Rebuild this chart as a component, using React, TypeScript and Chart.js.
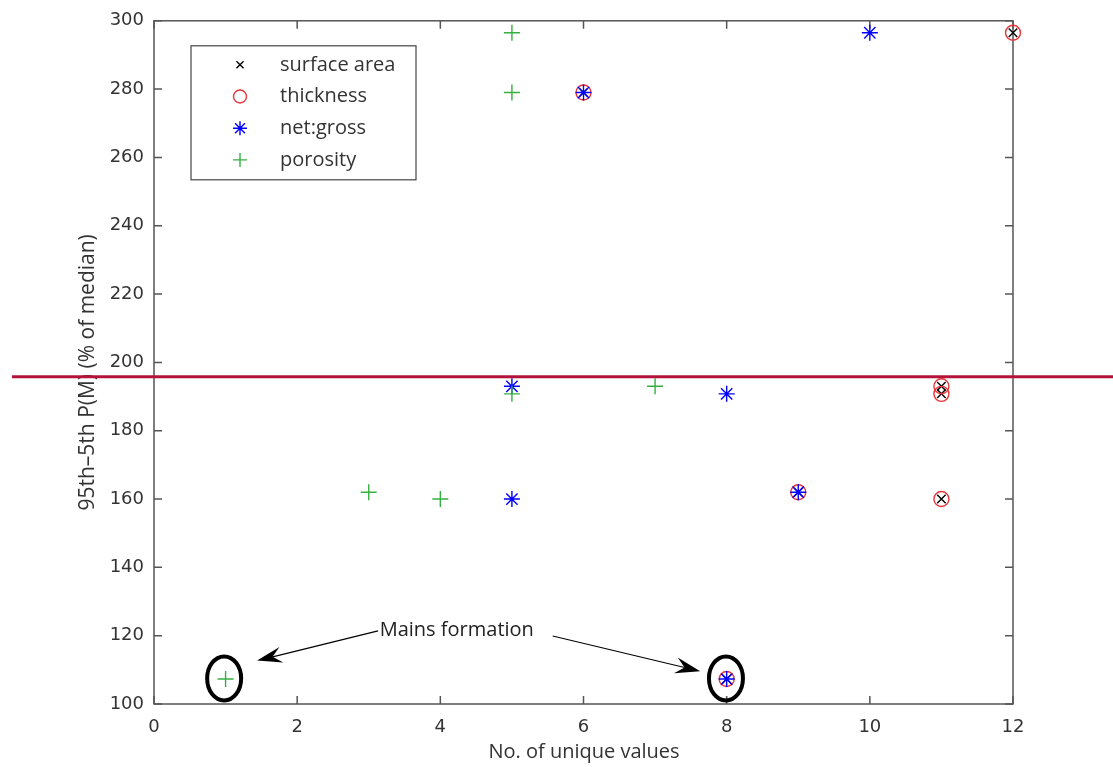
import React, { useEffect, useRef } from "react";
import { Chart, registerables } from "chart.js";

Chart.register(...registerables);

// ---- data ----
const seriesLabels = ["surface area", "thickness", "net:gross", "porosity"];
const surfaceAreaX = [6, 8, 9, 11, 11, 11, 12];
const surfaceAreaY = [279, 107.3, 162, 193, 190.8, 160, 296.5];
const thicknessX = [6, 8, 9, 11, 11, 11, 12];
const thicknessY = [279, 107.3, 162, 193, 190.8, 160, 296.5];
const netGrossX = [5, 5, 6, 8, 8, 9, 10];
const netGrossY = [193, 160, 279, 190.8, 107.3, 162, 296.5];
const porosityX = [1, 3, 4, 5, 5, 5, 7];
const porosityY = [107.3, 162, 160, 296.5, 279, 190.8, 193];

const xTicks = [0, 2, 4, 6, 8, 10, 12];
const yTicks = [100, 120, 140, 160, 180, 200, 220, 240, 260, 280, 300];

const xTitle = "No. of unique values";
const yTitle = "95th\u20135th P(M) (% of median)";

// annotation (data coordinates)
const annotationText = "Mains formation";
const annotationTextPos = [4.23, 121.6];
const ellipseCenters = [[0.98, 107.5], [7.99, 107.5]];
const arrowStarts = [[3.13, 121.4], [5.57, 119.9]];
const arrowTips = [[1.44, 112.7], [7.63, 109.6]];
const guideLineValue = 195.8;

const COLORS = ["#000000", "#e8353a", "#0000ff", "#35b040"];
const STYLES = ["crossRot", "circle", "star", "cross"];
const RADII = [6, 7.5, 8, 8];

const toPts = (xs: number[], ys: number[]) => xs.map((x, i) => ({ x, y: ys[i] }));

const TEXT_FONT = "'Open Sans', 'Noto Sans', sans-serif";

function drawMarker(ctx: CanvasRenderingContext2D, style: string, cx: number, cy: number, r: number, color: string) {
  ctx.save();
  ctx.strokeStyle = color;
  ctx.lineWidth = 1.4;
  ctx.beginPath();
  if (style === "circle") {
    ctx.arc(cx, cy, r, 0, Math.PI * 2);
  } else {
    const lines: number[] = [];
    if (style === "cross" || style === "star") lines.push(0, Math.PI / 2);
    if (style === "crossRot" || style === "star") lines.push(Math.PI / 4, (3 * Math.PI) / 4);
    for (const a of lines) {
      ctx.moveTo(cx - r * Math.cos(a), cy - r * Math.sin(a));
      ctx.lineTo(cx + r * Math.cos(a), cy + r * Math.sin(a));
    }
  }
  ctx.stroke();
  ctx.restore();
}

const framePlugin = {
  id: "frame",
  beforeDatasetsDraw(chart: any) {
    const { ctx, chartArea: ca, scales } = chart;
    const x = scales.x, y = scales.y;
    ctx.save();
    ctx.strokeStyle = "#555555";
    ctx.lineWidth = 1.5;
    ctx.strokeRect(ca.left, ca.top, ca.right - ca.left, ca.bottom - ca.top);
    const tl = 8;
    ctx.beginPath();
    for (const v of xTicks) {
      const px = x.getPixelForValue(v);
      ctx.moveTo(px, ca.bottom); ctx.lineTo(px, ca.bottom - tl);
      ctx.moveTo(px, ca.top); ctx.lineTo(px, ca.top + tl);
    }
    for (const v of yTicks) {
      const py = y.getPixelForValue(v);
      ctx.moveTo(ca.left, py); ctx.lineTo(ca.left + tl, py);
      ctx.moveTo(ca.right, py); ctx.lineTo(ca.right - tl, py);
    }
    ctx.stroke();
    // axis titles
    ctx.fillStyle = "#333333";
    ctx.textAlign = "center";
    ctx.textBaseline = "middle";
    ctx.font = `20px ${TEXT_FONT}`;
    ctx.fillText(xTitle, (ca.left + ca.right) / 2 + 0.5, ca.bottom + 48);
    ctx.save();
    ctx.translate(ca.left - 66, (ca.top + ca.bottom) / 2 + 10);
    ctx.rotate(-Math.PI / 2);
    ctx.font = `21px ${TEXT_FONT}`;
    ctx.fillText(yTitle, 0, 0);
    ctx.restore();
    ctx.restore();
  },
  afterDraw(chart: any) {
    const { ctx, chartArea: ca, scales } = chart;
    const x = scales.x, y = scales.y;
    ctx.save();
    // legend
    const lx = ca.left + 37, ly = ca.top + 25, lw = 225, lh = 134;
    ctx.fillStyle = "#ffffff";
    ctx.fillRect(lx, ly, lw, lh);
    ctx.strokeStyle = "#444444";
    ctx.lineWidth = 1.2;
    ctx.strokeRect(lx, ly, lw, lh);
    ctx.font = `20px ${TEXT_FONT}`;
    ctx.textAlign = "left";
    ctx.textBaseline = "middle";
    seriesLabels.forEach((label, i) => {
      const ry = ly + 19 + i * 31.7;
      drawMarker(ctx, STYLES[i], lx + 49, ry, RADII[i] - 1, COLORS[i]);
      ctx.fillStyle = "#333333";
      ctx.fillText(label, lx + 89, ry);
    });

    // annotation ellipses
    ctx.strokeStyle = "#000000";
    ctx.lineWidth = 4;
    for (const [ex, ey] of ellipseCenters) {
      ctx.beginPath();
      ctx.ellipse(x.getPixelForValue(ex), y.getPixelForValue(ey), 17, 22, 0, 0, Math.PI * 2);
      ctx.stroke();
    }
    // arrows
    ctx.lineWidth = 1.2;
    ctx.fillStyle = "#000000";
    arrowStarts.forEach((s, i) => {
      const sx = x.getPixelForValue(s[0]), sy = y.getPixelForValue(s[1]);
      const tx = x.getPixelForValue(arrowTips[i][0]), ty = y.getPixelForValue(arrowTips[i][1]);
      const ang = Math.atan2(ty - sy, tx - sx);
      const hl = 22, hw = 8;
      const bx = tx - hl * Math.cos(ang), by = ty - hl * Math.sin(ang);
      ctx.beginPath();
      ctx.moveTo(sx, sy); ctx.lineTo(bx + 6 * Math.cos(ang), by + 6 * Math.sin(ang));
      ctx.stroke();
      ctx.beginPath();
      ctx.moveTo(tx, ty);
      ctx.lineTo(bx - hw * Math.sin(ang) - 3 * Math.cos(ang), by + hw * Math.cos(ang) - 3 * Math.sin(ang));
      ctx.lineTo(bx + 6 * Math.cos(ang), by + 6 * Math.sin(ang));
      ctx.lineTo(bx + hw * Math.sin(ang) - 3 * Math.cos(ang), by - hw * Math.cos(ang) - 3 * Math.sin(ang));
      ctx.closePath();
      ctx.fill();
    });
    ctx.fillStyle = "#222222";
    ctx.font = `20px ${TEXT_FONT}`;
    ctx.textAlign = "center";
    ctx.textBaseline = "middle";
    ctx.fillText(annotationText, x.getPixelForValue(annotationTextPos[0]), y.getPixelForValue(annotationTextPos[1]));

    // red guide line across the figure
    const gy = y.getPixelForValue(guideLineValue);
    ctx.strokeStyle = "#b3133a";
    ctx.lineWidth = 3;
    ctx.beginPath();
    ctx.moveTo(12, gy);
    ctx.lineTo(chart.width, gy);
    ctx.stroke();
    ctx.restore();
  },
};

export default function App() {
  const ref = useRef<HTMLCanvasElement>(null);
  useEffect(() => {
    if (!ref.current) return;
    const series = [
      toPts(surfaceAreaX, surfaceAreaY),
      toPts(thicknessX, thicknessY),
      toPts(netGrossX, netGrossY),
      toPts(porosityX, porosityY),
    ];
    const chart = new Chart(ref.current, {
      type: "scatter",
      data: {
        datasets: seriesLabels.map((label, i) => ({
          label,
          data: series[i],
          pointStyle: STYLES[i] as any,
          pointRadius: RADII[i],
          pointHoverRadius: RADII[i],
          pointBorderColor: COLORS[i],
          pointBackgroundColor: "rgba(0,0,0,0)",
          pointBorderWidth: 1.4,
          borderColor: COLORS[i],
          backgroundColor: "rgba(0,0,0,0)",
          showLine: false,
          clip: false as any,
          order: 4 - i,
        })),
      },
      options: {
        responsive: false,
        animation: false,
        layout: { padding: { left: 0, top: 19, right: 100, bottom: 0 } },
        plugins: { legend: { display: false }, tooltip: { enabled: false } },
        scales: {
          x: {
            type: "linear",
            min: 0,
            max: 12,
            afterFit: (s: any) => { s.height = 63; },
            afterBuildTicks: (s: any) => { s.ticks = xTicks.map((v) => ({ value: v })); },
            grid: { display: false, drawTicks: false },
            border: { display: false },
            ticks: { padding: 13, color: "#333333", font: { family: "'DejaVu Sans'", size: 18 }, autoSkip: false, maxRotation: 0 },
          },
          y: {
            type: "linear",
            min: 100,
            max: 300,
            afterFit: (s: any) => { s.width = 154; },
            afterBuildTicks: (s: any) => { s.ticks = yTicks.map((v) => ({ value: v })); },
            grid: { display: false, drawTicks: false },
            border: { display: false },
            ticks: { padding: 10, color: "#333333", font: { family: "'DejaVu Sans'", size: 18 }, autoSkip: false },
          },
        },
      },
      plugins: [framePlugin],
    });
    return () => chart.destroy();
  }, []);
  return (
    <div style={{ position: "absolute", left: 0, top: 0, width: 1113, height: 767, background: "#fff" }}>
      <canvas ref={ref} width={1113} height={767} style={{ display: "block" }} />
    </div>
  );
}
